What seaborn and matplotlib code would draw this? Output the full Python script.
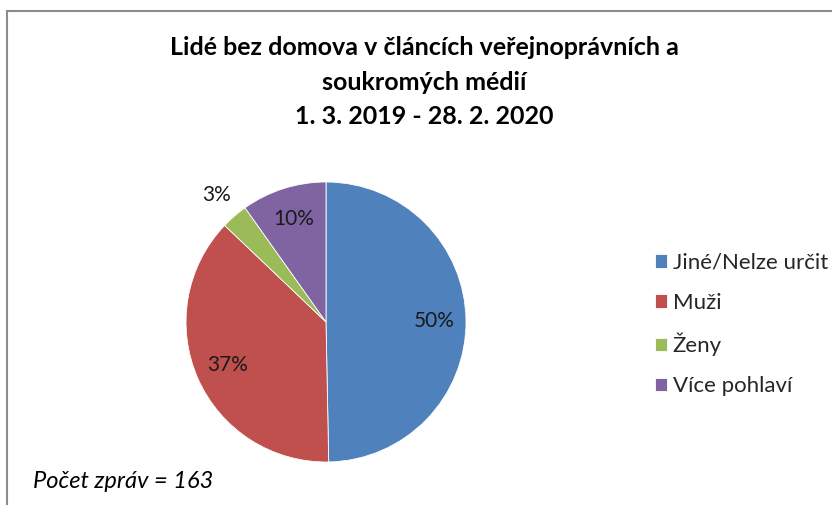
import numpy as np
import seaborn as sns
import matplotlib.pyplot as plt
from matplotlib.patches import Rectangle

# Data
categories = ['Jiné/Nelze určit', 'Muži', 'Ženy', 'Více pohlaví']
counts = [81, 61, 5, 16]
pct_labels = ['50%', '37%', '3%', '10%']
colors = ['#4F81BD', '#C0504D', '#9BBB59', '#8064A2']
title = 'Lidé bez domova v článcích veřejnoprávních a\nsoukromých médií\n1. 3. 2019 - 28. 2. 2020'
note = 'Počet zpráv = 163'

sns.set_theme(style='white')
plt.rcParams['font.family'] = ['Lato', 'DejaVu Sans']
palette = sns.color_palette(colors)

W, H = 832, 505
fig = plt.figure(figsize=(W / 100, H / 100), dpi=100)
fig.patch.set_facecolor('white')

# chart frame (runs past right/bottom edge)
fig.patches.append(Rectangle((7 / W, -0.1), 1.2, 1 - 11 / H + 0.1,
                             transform=fig.transFigure, fill=False,
                             edgecolor='#8c8c8c', linewidth=1.5))

# pie axes: centre (326, 322) px, radius 140 px
cx, cy, r = 326, 322, 140
ax = fig.add_axes([(cx - r) / W, (H - cy - r) / H, 2 * r / W, 2 * r / H])
wedges, _ = ax.pie(counts, colors=palette, startangle=90, counterclock=False,
                   wedgeprops=dict(edgecolor='white', linewidth=0.6))
ax.set_xlim(-1, 1)
ax.set_ylim(-1, 1)
ax.set_aspect('equal')

# percentage labels along each wedge's middle angle
for w, lab in zip(wedges, pct_labels):
    ang = np.deg2rad((w.theta1 + w.theta2) / 2)
    frac = (w.theta2 - w.theta1) / 360
    dist = 0.77 if frac > 0.05 else 1.2
    ax.text(dist * np.cos(ang), dist * np.sin(ang), lab, ha='center', va='center',
            fontsize=15, color='#1a1a1a')

fig.text(424 / W, 1 - 82 / H, title, ha='center', va='center', fontsize=18,
         fontweight='bold', linespacing=1.62, color='black')

fig.legend(wedges, categories, loc='upper left', bbox_to_anchor=(646 / W, 1 - 244 / H),
           frameon=False, fontsize=16, handlelength=0.55, handleheight=0.55,
           handletextpad=0.25, labelspacing=0.9, borderaxespad=0)

fig.text(33 / W, 1 - 481 / H, note, ha='left', va='center', fontsize=17,
         style='italic', color='black')

fig.savefig('out.png', dpi=100)
